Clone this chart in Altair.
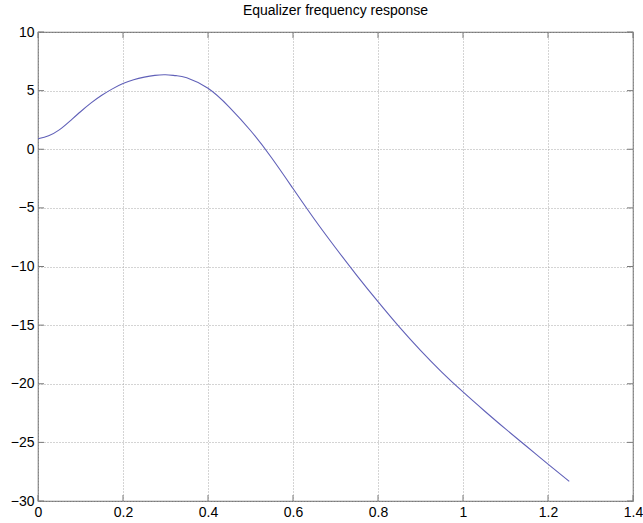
import altair as alt
import pandas as pd

# Equalizer magnitude response (dB) against normalised frequency
freq = [0.0, 0.025, 0.05, 0.075, 0.10, 0.125, 0.15, 0.175, 0.20, 0.225,
        0.25, 0.275, 0.30, 0.325, 0.35, 0.40, 0.45, 0.50, 0.55, 0.60, 0.65,
        0.70, 0.75, 0.80, 0.85, 0.90, 0.95, 1.00, 1.05, 1.10, 1.15, 1.20,
        1.25]
gain_db = [0.9, 1.15, 1.65, 2.4, 3.2, 3.95, 4.6, 5.15, 5.6, 5.93,
           6.15, 6.3, 6.35, 6.28, 6.1, 5.2, 3.6, 1.6, -0.75, -3.35, -5.95,
           -8.4, -10.75, -13.0, -15.15, -17.15, -19.0, -20.7, -22.3, -23.85,
           -25.35, -26.85, -28.33]

x_ticks = [0, 0.2, 0.4, 0.6, 0.8, 1.0, 1.2, 1.4]
y_ticks = [-30, -25, -20, -15, -10, -5, 0, 5, 10]

W, H = 595, 469
FONT = "Liberation Sans"
FRAME = "#7a7a7a"
GRID = "#a8a8a8"

df = pd.DataFrame({"f": freq, "g": gain_db})
xt = pd.DataFrame({"f": x_ticks})
yt = pd.DataFrame({"g": y_ticks})

xscale = alt.Scale(domain=[0, 1.4], nice=False, zero=False)
yscale = alt.Scale(domain=[-30, 10], nice=False, zero=False)

x_axis = alt.Axis(values=x_ticks, labelExpr="datum.value", grid=True,
                  gridDash=[1, 2], gridColor=GRID, gridWidth=1,
                  ticks=False, domain=False, labelFont=FONT, labelFontSize=14,
                  labelColor="#000", labelPadding=4, title=None,
                  labelFlush=False)
y_axis = alt.Axis(values=y_ticks, grid=True, gridDash=[1, 2],
                  gridColor=GRID, gridWidth=1, ticks=False, domain=False,
                  labelFont=FONT, labelFontSize=14, labelColor="#000",
                  labelPadding=4, title=None, labelFlush=False)

line = alt.Chart(df).mark_line(color="#6060b8", strokeWidth=1.1,
                               interpolate="natural").encode(
    x=alt.X("f:Q", scale=xscale, axis=x_axis),
    y=alt.Y("g:Q", scale=yscale, axis=y_axis),
)

# inward tick marks on all four sides of the box
tick_len = 6
xt_bottom = alt.Chart(xt).mark_rule(color=FRAME).encode(
    x=alt.X("f:Q", scale=xscale), y=alt.value(H), y2=alt.value(H - tick_len))
xt_top = alt.Chart(xt).mark_rule(color=FRAME).encode(
    x=alt.X("f:Q", scale=xscale), y=alt.value(0), y2=alt.value(tick_len))
yt_left = alt.Chart(yt).mark_rule(color=FRAME).encode(
    y=alt.Y("g:Q", scale=yscale), x=alt.value(0), x2=alt.value(tick_len))
yt_right = alt.Chart(yt).mark_rule(color=FRAME).encode(
    y=alt.Y("g:Q", scale=yscale), x=alt.value(W), x2=alt.value(W - tick_len))

chart = alt.layer(line, xt_bottom, xt_top, yt_left, yt_right).properties(
    width=W,
    height=H,
    title=alt.TitleParams("Equalizer frequency response", font=FONT,
                          fontSize=14, fontWeight="normal", color="#000",
                          anchor="middle", offset=7),
    autosize=alt.AutoSizeParams(type="none"),
    padding={"left": 38, "top": 32, "right": 10, "bottom": 22},
    background="#ffffff",
).configure_view(stroke=FRAME, strokeWidth=1.2)

chart.save("out.html", embed_options={"renderer": "svg", "actions": False})
